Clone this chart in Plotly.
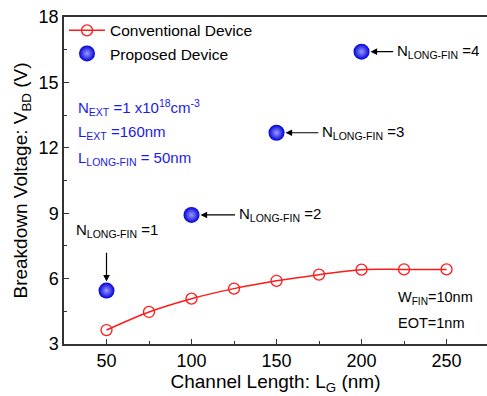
import plotly.graph_objects as go

# Data
lg_conv = [50, 75, 100, 125, 150, 175, 200, 225, 250]
vbd_conv = [3.64, 4.47, 5.08, 5.54, 5.90, 6.18, 6.41, 6.42, 6.42]
lg_prop = [50, 100, 150, 200]
vbd_prop = [5.45, 8.92, 12.69, 16.41]
nfin_labels = ["1", "2", "3", "4"]
x_ticks = [50, 100, 150, 200, 250]
y_ticks = [3, 6, 9, 12, 15, 18]

FONT = "Arial, Liberation Sans, sans-serif"
BLUE_TXT = "#1a1ae6"

fig = go.Figure()
fig.add_trace(go.Scatter(
    x=lg_conv, y=vbd_conv, mode="lines+markers", name="Conventional Device",
    line=dict(color="#ff1a1a", width=1.5, shape="spline"),
    marker=dict(symbol="circle-open", size=11, color="#ff1a1a", line=dict(width=1.3)),
))
fig.add_trace(go.Scatter(
    x=lg_prop, y=vbd_prop, mode="markers", name="Proposed Device",
    marker=dict(symbol="circle", size=16, color="#0000d8",
                gradient=dict(type="radial", color="#9a9aff"),
                line=dict(width=0)),
))

# Arrow annotations for N_LONG-FIN labels
tails_x = {1: 126.5, 2: 175.5, 3: 219.5}
for i in (1, 2, 3):
    fig.add_annotation(x=lg_prop[i], y=vbd_prop[i], ax=tails_x[i], ay=vbd_prop[i],
                       axref="x", ayref="y", xref="x", yref="y", text="",
                       showarrow=True, arrowhead=2, arrowsize=1.1, arrowwidth=1.2,
                       arrowcolor="black", standoff=9)
    fig.add_annotation(x=tails_x[i] + 0.3, y=vbd_prop[i], xref="x", yref="y",
                       text="N<sub>LONG-FIN</sub> =" + nfin_labels[i], showarrow=False,
                       xanchor="left", yanchor="middle",
                       font=dict(family=FONT, size=15, color="black"))
fig.add_annotation(x=lg_prop[0], y=vbd_prop[0], ax=lg_prop[0], ay=7.25,
                   axref="x", ayref="y", xref="x", yref="y", text="",
                   showarrow=True, arrowhead=2, arrowsize=1.1, arrowwidth=1.2,
                   arrowcolor="black", standoff=9)
fig.add_annotation(x=31, y=8.2, xref="x", yref="y",
                   text="N<sub>LONG-FIN</sub> =" + nfin_labels[0], showarrow=False,
                   xanchor="left", yanchor="middle",
                   font=dict(family=FONT, size=15, color="black"))

# Blue parameter text
blue_lines = ["N<sub>EXT</sub> =1 x10<sup>18</sup>cm<sup>-3</sup>",
              "L<sub>EXT</sub> =160nm",
              "L<sub>LONG-FIN</sub> = 50nm"]
blue_y = [13.85, 12.7, 11.5]
for t, yy in zip(blue_lines, blue_y):
    fig.add_annotation(x=32, y=yy, xref="x", yref="y", text=t, showarrow=False,
                       xanchor="left", yanchor="middle",
                       font=dict(family=FONT, size=15, color=BLUE_TXT))

# Device parameters
for t, yy in zip(["W<sub>FIN</sub>=10nm", "EOT=1nm"], [5.1, 3.98]):
    fig.add_annotation(x=220, y=yy, xref="x", yref="y", text=t, showarrow=False,
                       xanchor="left", yanchor="middle",
                       font=dict(family=FONT, size=14.5, color="black"))

axis_common = dict(showgrid=False, zeroline=False, showline=True, linecolor="#333333",
                   linewidth=1.5, ticks="inside", ticklen=5, tickwidth=1.3,
                   tickcolor="#333333", tickfont=dict(family=FONT, size=18, color="black"))

fig.update_xaxes(range=[25, 273.8], tickvals=x_ticks, mirror=True,
                 minor=dict(tickvals=[75, 125, 175, 225, 275], ticklen=3, tickcolor="#333333", ticks="inside"),
                 title=dict(text="Channel Length: L<sub>G</sub> (nm)", standoff=2,
                            font=dict(family=FONT, size=19, color="black")),
                 **axis_common)
fig.update_yaxes(range=[3, 18], tickvals=y_ticks,
                 minor=dict(tickvals=[4.5, 7.5, 10.5, 13.5, 16.5], ticklen=3, tickcolor="#333333", ticks="inside"),
                 title=dict(text="Breakdown Voltage: V<sub>BD</sub> (V)", standoff=6,
                            font=dict(family=FONT, size=19, color="black")),
                 **axis_common)

fig.update_layout(
    width=487, height=396,
    margin=dict(l=64, r=0, t=17, b=52),
    plot_bgcolor="white", paper_bgcolor="white",
    legend=dict(x=0.0, y=1.01, xanchor="left", yanchor="top", bgcolor="rgba(0,0,0,0)",
                font=dict(family=FONT, size=15.5, color="black"), tracegroupgap=0,
                itemwidth=36),
)

fig.write_html("out.html")
